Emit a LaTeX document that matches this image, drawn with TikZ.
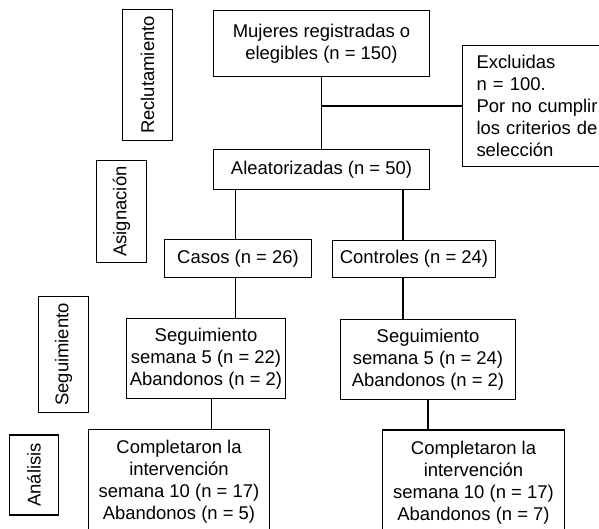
\documentclass[tikz,border=0pt]{standalone}
\usepackage{fontspec}
\setmainfont{Liberation Sans}
\begin{document}
\begin{tikzpicture}[line width=0.6pt,
        font=\fontsize{10.5}{12.5}\selectfont,
        caja/.style={draw,align=center,inner sep=0pt},
        etapa/.style={draw,rotate=90,inner sep=0pt}]
        \useasboundingbox (0,0) rectangle (11.98,10.56);
        \clip (0,0) rectangle (11.98,10.56);

        %%%%%%%% Etapas %%%%%%%%
        \node[etapa,minimum width=2.63cm,minimum height=0.99cm] (reclut) at (2.95,9.06) {Reclutamiento};
        \node[etapa,minimum width=2.03cm,minimum height=1cm] (asign) at (2.43,6.33) {Asignación};
        \node[etapa,minimum width=2.32cm,minimum height=1cm] (seglab) at (1.27,3.47) {Seguimiento};
        \node[etapa,minimum width=1.6cm,minimum height=0.99cm] (analab) at (0.68,1.06) {Análisis};

        %%%%%%%% Cajas %%%%%%%%
        \node[caja,minimum width=4.33cm,minimum height=1.32cm] (mujeres) at (6.43,9.69) {Mujeres registradas o\\ elegibles (n = 150)};
        \node[caja,align=left,text width=2.7cm,inner xsep=0.28cm,minimum height=2.43cm] (excl) at (10.88,8.44) {Excluidas\\ n = 100.\\ Por no cumplir\\ los criterios de\\ selección};
        \node[caja,minimum width=4.33cm,minimum height=0.81cm] (aleat) at (6.43,7.17) {Aleatorizadas (n = 50)};
        \node[caja,minimum width=2.94cm,minimum height=0.75cm] (casos) at (4.76,5.39) {Casos (n = 26)};
        \node[caja,minimum width=3.25cm,minimum height=0.75cm] (control) at (8.28,5.38) {Controles (n = 24)};
        \node[caja,minimum width=3.17cm,minimum height=1.6cm] (segA) at (4.12,3.39) {Seguimiento\\ semana 5 (n = 22)\\ Abandonos (n = 2)};
        \node[caja,minimum width=3.51cm,minimum height=1.6cm] (segB) at (8.56,3.37) {Seguimiento\\ semana 5 (n = 24)\\ Abandonos (n = 2)};
        \node[caja,minimum width=3.62cm,minimum height=2.11cm] (compA) at (3.58,0.92) {Completaron la\\ intervención\\ semana 10 (n = 17)\\ Abandonos (n = 5)};
        \node[caja,minimum width=3.63cm,minimum height=2.12cm] (compB) at (9.47,0.90) {Completaron la\\ intervención\\ semana 10 (n = 17)\\ Abandonos (n = 7)};

        %%%%%%%% Lineas %%%%%%%%
        \coordinate (ejeA) at (4.71,0);
        \coordinate (ejeB) at (8.06,0);
        \coordinate (ejeC) at (4.23,0);
        \draw (mujeres) -- (aleat);
        \draw (mujeres.south |- excl.west) -- (excl.west);
        \draw (aleat.south -| ejeA) -- (casos.north -| ejeA);
        \draw (aleat.south -| ejeB) -- (control.north -| ejeB);
        \draw (casos.south -| ejeA) -- (segA.north -| ejeA);
        \draw (control.south -| ejeB) -- (segB.north -| ejeB);
        \draw (segA.south -| ejeC) -- (compA.north -| ejeC);
        \draw (segB.south) -- (segB.south |- compB.north);
    \end{tikzpicture}
\end{document}
